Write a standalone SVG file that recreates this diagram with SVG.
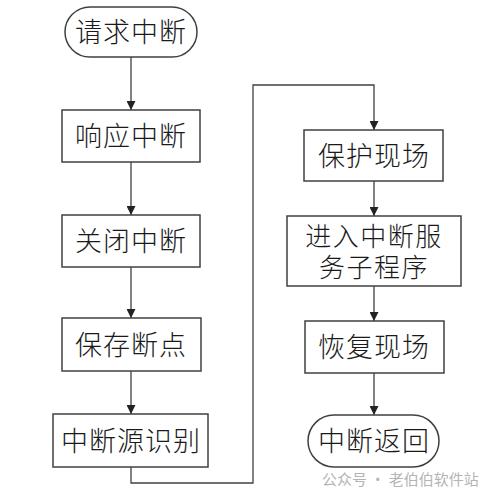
<svg xmlns="http://www.w3.org/2000/svg" width="490" height="501" viewBox="0 0 490 501">
<style>
.n{fill:#fff;stroke:#404040;stroke-width:1.5}
.t{font-family:"Liberation Sans","Noto Sans CJK SC",sans-serif;font-weight:300;font-size:27px;fill:#1a1a1a;text-anchor:middle;letter-spacing:1px}
.s{font-size:26px;letter-spacing:1.5px}
.c{fill:none;stroke:#404040;stroke-width:1.3}
.w{font-family:"Noto Sans CJK SC",sans-serif;font-size:15px;fill:#b4b4b4}
</style>
<defs>
<marker id="a" viewBox="0 0 10 10" refX="10" refY="5" markerWidth="9" markerHeight="9" markerUnits="userSpaceOnUse" orient="auto">
<path d="M0,0L10,5L0,10z" fill="#222"/>
</marker>
</defs>
<rect width="490" height="501" fill="#fff"/>
<g id="connectors">
<line class="c" x1="131" y1="57" x2="131" y2="110" marker-end="url(#a)"/>
<line class="c" x1="131" y1="162" x2="131" y2="215" marker-end="url(#a)"/>
<line class="c" x1="131" y1="267" x2="131" y2="318" marker-end="url(#a)"/>
<line class="c" x1="131" y1="371" x2="131" y2="414" marker-end="url(#a)"/>
<polyline class="c" points="131,467 131,483 253,483 253,85 374,85 374,130" marker-end="url(#a)"/>
<line class="c" x1="374" y1="181" x2="374" y2="216" marker-end="url(#a)"/>
<line class="c" x1="374" y1="286" x2="374" y2="321" marker-end="url(#a)"/>
<line class="c" x1="374" y1="373" x2="374" y2="415" marker-end="url(#a)"/>
</g>
<g id="n1"><rect class="n" x="65" y="7" width="132" height="50" rx="25"/><text class="t" x="131" y="42">请求中断</text></g>
<g id="n2"><rect class="n" x="62" y="110" width="138" height="52"/><text class="t" x="131" y="146">响应中断</text></g>
<g id="n3"><rect class="n" x="62" y="215" width="138" height="52"/><text class="t" x="131" y="251">关闭中断</text></g>
<g id="n4"><rect class="n" x="62" y="318" width="139" height="53"/><text class="t" x="131" y="355">保存断点</text></g>
<g id="n5"><rect class="n" x="53" y="414" width="155" height="53"/><text class="t" x="131" y="451">中断源识别</text></g>
<g id="n6"><rect class="n" x="304" y="130" width="139" height="51"/><text class="t" x="374" y="166">保护现场</text></g>
<g id="n7"><rect class="n" x="287" y="216" width="174" height="70"/><text class="t s" x="374" y="246">进入中断服</text><text class="t s" x="374" y="277">务子程序</text></g>
<g id="n8"><rect class="n" x="305" y="321" width="139" height="52"/><text class="t" x="374" y="357">恢复现场</text></g>
<g id="n9"><rect class="n" x="308" y="415" width="131" height="52" rx="26"/><text class="t" x="374" y="451">中断返回</text></g>
<text class="w" x="322" y="485">公众号 · 老伯伯软件站</text>
</svg>
